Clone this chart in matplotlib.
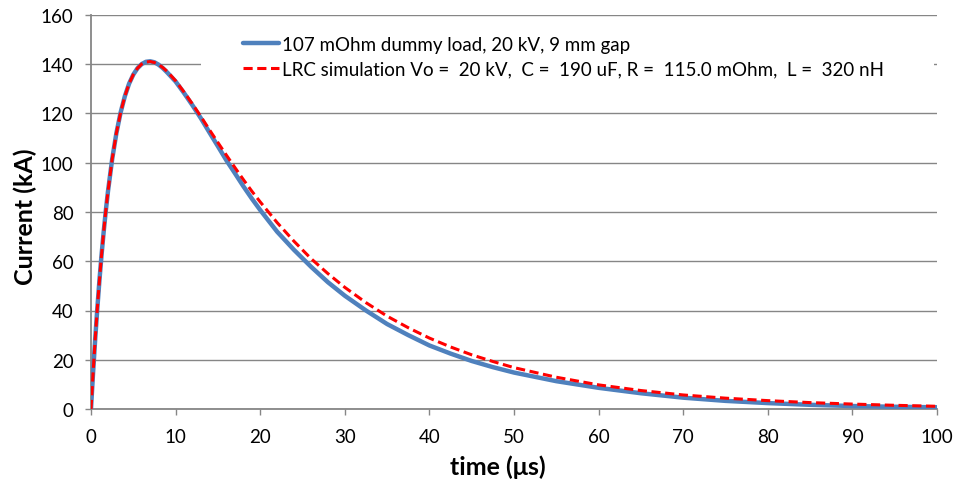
import matplotlib
matplotlib.use("Agg")
from matplotlib import pyplot as plt
from matplotlib.patches import Rectangle

params = {
    "font.family": ["Lato", "DejaVu Sans"],
    "font.size": 13,
    "axes.linewidth": 1.0,
}
matplotlib.rcParams.update(params)

# time in microseconds, current in kA
t_us = [0, 0.1, 0.25, 0.5, 0.75, 1, 1.25, 1.5, 1.75, 2, 2.5, 3, 3.5, 4, 4.5, 5, 5.5,
        6, 6.5, 7, 7.5, 8, 8.5, 9, 10, 11, 12, 13, 14, 15, 16, 17, 18, 19, 20, 22,
        24, 26, 28, 30, 32.5, 35, 37.5, 40, 42.5, 45, 47.5, 50, 55, 60, 65, 70, 75,
        80, 85, 90, 95, 100]

i_meas = [0, 6.1, 15, 28.6, 41, 52.4, 62.7, 72, 80.5, 88.2, 101.4, 112, 120.4, 127,
          132.1, 135.8, 138.4, 140.1, 141, 141.2, 140.8, 139.8, 138.4, 136.7, 133,
          128.3, 123.3, 118, 112.3, 106.7, 101, 95.8, 90.5, 85.5, 80.8, 72, 64.6,
          57.8, 51.5, 46, 40, 34.5, 30, 25.8, 22.5, 19.5, 17, 14.8, 11.3, 8.6, 6.4,
          4.6, 3.3, 2.4, 1.7, 1.2, 0.9, 0.7]

i_sim = [0, 6.1, 15, 28.6, 41, 52.4, 62.7, 72, 80.5, 88.2, 101.4, 112, 120.4, 127,
         132.1, 135.8, 138.4, 140.1, 140.9, 141.1, 140.7, 139.9, 138.6, 137.1, 133.3,
         128.7, 123.8, 118.7, 113.4, 108.2, 103.1, 98.1, 93.2, 88.5, 84.1, 75.7,
         68.1, 61.1, 55, 49.4, 43.2, 37.7, 33, 28.8, 25.2, 22, 19.3, 16.8, 12.9, 9.8,
         7.5, 5.7, 4.4, 3.4, 2.6, 2.0, 1.5, 1.1]

label_meas = "107 mOhm dummy load, 20 kV, 9 mm gap"
label_sim = "LRC simulation Vo =  20 kV,  C =  190 uF, R =  115.0 mOhm,  L =  320 nH"

x_ticks = [0, 10, 20, 30, 40, 50, 60, 70, 80, 90, 100]
y_ticks = [0, 20, 40, 60, 80, 100, 120, 140, 160]

gray = "#868686"

fig = plt.figure(figsize=(9.58, 4.81), dpi=100)
ax = fig.add_axes([91 / 958, 1 - 410 / 481, 846 / 958, 394 / 481])

ax.plot(t_us, i_meas, color="#4F81BD", lw=3.2, solid_capstyle="round",
        label=label_meas, zorder=3)
ax.plot(t_us, i_sim, color="#FF0000", lw=2.2, ls=(0, (3, 1.5)),
        label=label_sim, zorder=4)

ax.set_xlim(0, 100)
ax.set_ylim(0, 160)
ax.set_xticks(x_ticks)
ax.set_yticks(y_ticks)
ax.grid(axis="y", color=gray, lw=1.0, zorder=0)
ax.set_axisbelow(True)

for side in ["top", "right"]:
    ax.spines[side].set_visible(False)
for side in ["left", "bottom"]:
    ax.spines[side].set_color(gray)
    ax.spines[side].set_linewidth(1.3)

ax.tick_params(axis="both", direction="out", length=4.5, width=1.0, color=gray,
               labelsize=13.5)
ax.tick_params(axis="y", pad=8)
ax.tick_params(axis="x", pad=9)

ax.set_xlabel("time (μs)", fontsize=18, fontweight="bold", va="center")
ax.xaxis.set_label_coords((498 - 91) / 846, (410 - 467) / 394)
ax.set_ylabel("Current (kA)", fontsize=18, fontweight="bold", va="center")
ax.yaxis.set_label_coords((25 - 91) / 846, (410 - 217) / 394)

# white legend background hiding the gridline, like the original
bg = Rectangle((201 / 958, 1 - 100 / 481), 733 / 958, 74 / 481,
               transform=fig.transFigure, facecolor="white", edgecolor="none",
               zorder=2)
ax.add_artist(bg)
bg.set_clip_on(False)

leg = ax.legend(loc="upper left", bbox_to_anchor=(243 / 958, 1 - 37 / 481),
                bbox_transform=fig.transFigure, frameon=False, fontsize=13.5,
                handlelength=1.9, handletextpad=0.2, labelspacing=0.4,
                borderpad=0, borderaxespad=0)
leg.set_zorder(5)

plt.savefig("out.png", dpi=100)
